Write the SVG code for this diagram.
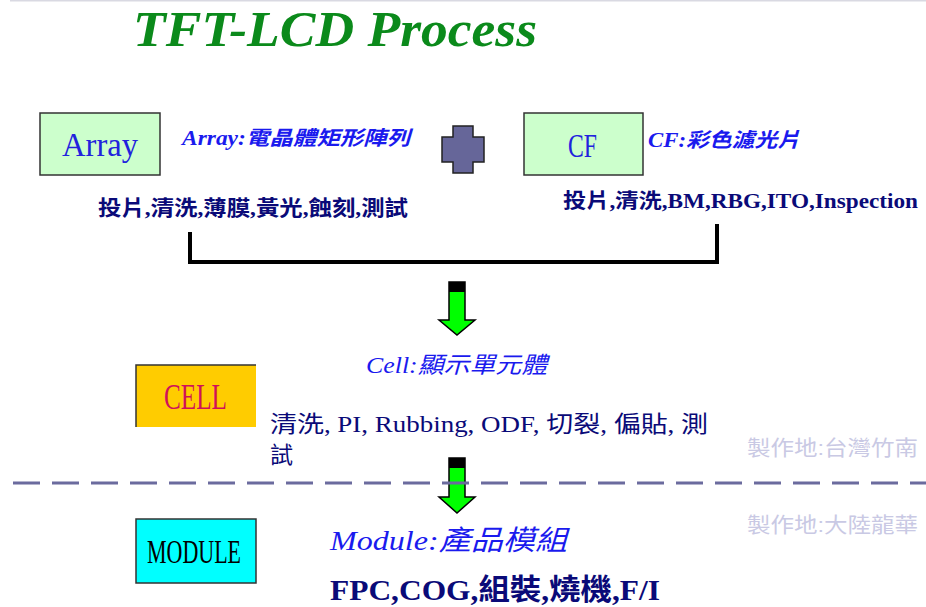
<svg xmlns="http://www.w3.org/2000/svg" width="926" height="607" viewBox="0 0 926 607">
<style>
.box{stroke:#333;stroke-width:1.5}
.lbl{font-family:"Liberation Serif","Noto Sans CJK TC",serif;text-anchor:start}
.it{font-family:"Liberation Serif","Noto Sans CJK TC",serif;font-style:italic;fill:#1a1aee}
.nv{font-family:"Liberation Serif","Noto Sans CJK TC",serif;fill:#0a0a78}
.loc{font-family:"Liberation Sans","Noto Sans CJK TC",sans-serif;fill:#c9c9e4;font-size:21px}
.arrow{fill:#00ff00;stroke:#000;stroke-width:1.5;stroke-linejoin:miter}
</style>
<rect width="926" height="607" fill="#ffffff"/>
<rect x="10" y="0" width="916" height="1.5" fill="#d9d9e2"/>
<text x="133" y="46" font-family="Liberation Serif" font-weight="bold" font-style="italic" font-size="50" fill="#0b8a1b" textLength="404" lengthAdjust="spacingAndGlyphs">TFT-LCD Process</text>

<g id="array">
<rect class="box" x="40" y="113" width="120" height="62" fill="#ccffcc"/>
<text class="lbl" x="62" y="156" font-size="34" fill="#2222dd" textLength="76" lengthAdjust="spacingAndGlyphs">Array</text>
<text class="it" x="182" y="145" font-size="20" font-weight="bold" textLength="228" lengthAdjust="spacingAndGlyphs">Array:電晶體矩形陣列</text>
<text class="nv" x="98" y="215" font-size="21" font-weight="bold" textLength="310" lengthAdjust="spacingAndGlyphs">投片,清洗,薄膜,黃光,蝕刻,測試</text>
</g>

<g id="plus">
<polygon points="453,126 473,126 473,137 484,137 484,162 473,162 473,173 453,173 453,162 442,162 442,137 453,137" fill="#666699" stroke="#222" stroke-width="1.5"/>
</g>

<g id="cf">
<rect class="box" x="524" y="113" width="119" height="62" fill="#ccffcc"/>
<text class="lbl" x="568" y="157" font-size="34" fill="#2222dd" textLength="29" lengthAdjust="spacingAndGlyphs">CF</text>
<text class="it" x="648" y="147" font-size="20" font-weight="bold" textLength="152" lengthAdjust="spacingAndGlyphs">CF:彩色濾光片</text>
<text class="nv" x="563" y="208" font-size="20" font-weight="bold" textLength="355" lengthAdjust="spacingAndGlyphs">投片,清洗,BM,RBG,ITO,Inspection</text>
</g>

<g id="cell">
<rect x="136" y="365" width="120" height="62" fill="#ffcc00"/>
<polyline points="136,427 136,365 256,365" fill="none" stroke="#333" stroke-width="1.5"/>
<text class="lbl" x="164" y="409" font-size="36" fill="#d0105a" textLength="63" lengthAdjust="spacingAndGlyphs">CELL</text>
<text class="it" x="366" y="373" font-size="23" textLength="181" lengthAdjust="spacingAndGlyphs">Cell:顯示單元體</text>
<text class="nv" x="270" y="432" font-size="23" textLength="438" lengthAdjust="spacingAndGlyphs">清洗, PI, Rubbing, ODF, 切裂, 偏貼, 測</text>
<text class="nv" x="270" y="463" font-size="23">試</text>
</g>

<g id="module">
<rect class="box" x="136" y="519" width="120" height="64" fill="#00ffff"/>
<text class="lbl" x="147" y="563" font-size="33" fill="#000" textLength="94" lengthAdjust="spacingAndGlyphs">MODULE</text>
<text class="it" x="330" y="550" font-size="28" textLength="237" lengthAdjust="spacingAndGlyphs">Module:產品模組</text>
<text class="nv" x="330" y="600" font-size="29" font-weight="bold" textLength="330" lengthAdjust="spacingAndGlyphs">FPC,COG,組裝,燒機,F/I</text>
</g>

<g id="connectors">
<path d="M190,232 V262 H717 V224" fill="none" stroke="#000" stroke-width="4"/>
<polygon class="arrow" points="449,282 465,282 465,320 475,320 457,335 439,320 449,320"/>
<rect x="449" y="282" width="16" height="10" fill="#000"/>
<polygon class="arrow" points="449,458 465,458 465,497 475,497 457,513 439,497 449,497"/>
<rect x="449" y="458" width="16" height="10" fill="#000"/>
<line x1="13" y1="483" x2="926" y2="483" stroke="#6b6b9e" stroke-width="3" stroke-dasharray="27 12"/>
</g>

<text class="loc" x="747" y="455" textLength="171" lengthAdjust="spacingAndGlyphs">製作地:台灣竹南</text>
<text class="loc" x="747" y="532" textLength="171" lengthAdjust="spacingAndGlyphs">製作地:大陸龍華</text>
</svg>
